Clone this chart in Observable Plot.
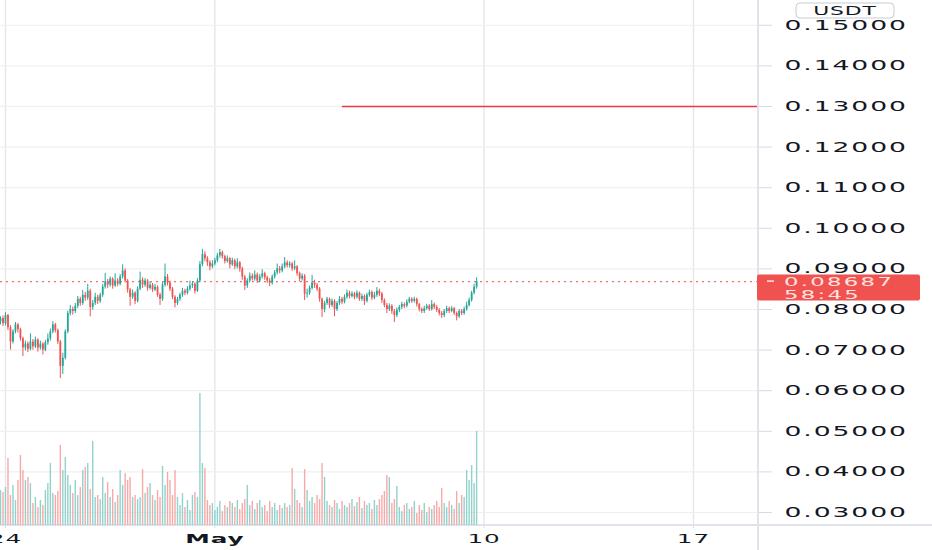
<!DOCTYPE html>
<html>
<head>
<meta charset="utf-8">
<script src="https://cdn.jsdelivr.net/npm/d3@7"></script>
<script src="https://cdn.jsdelivr.net/npm/@observablehq/plot@0.6"></script>
<style>
  body { margin: 0; background: #fff; }
  #chart { position: relative; width: 932px; height: 550px; overflow: hidden; background: #fff; }
  #chart svg { position: absolute; left: 0; top: 0; }
</style>
</head>
<body>
<div id="chart"></div>
<script>
// 2h candles, the first one opens Apr 23 20:00 UTC
const candleStart = Date.UTC(2024, 3, 23, 20);
const candleHours = 2;

const open = [
  .0770,.0778,.0765,.0785,.0755,.0720,.0745,.0762,.0750,.0728,.0705,.0715,
  .0702,.0720,.0708,.0725,.0705,.0715,.0700,.0718,.0728,.0745,.0762,.0748,
  .0720,.0660,.0680,.0745,.0790,.0800,.0795,.0808,.0825,.0815,.0835,.0828,
  .0845,.0805,.0815,.0830,.0820,.0835,.0855,.0868,.0860,.0875,.0858,.0870,
  .0862,.0880,.0895,.0870,.0848,.0830,.0840,.0820,.0850,.0872,.0860,.0870,
  .0852,.0860,.0848,.0855,.0835,.0825,.0860,.0880,.0865,.0850,.0830,.0815,
  .0825,.0835,.0845,.0840,.0850,.0858,.0862,.0845,.0870,.0910,.0935,.0925,
  .0915,.0905,.0912,.0920,.0932,.0940,.0930,.0918,.0925,.0910,.0920,.0905,
  .0915,.0900,.0880,.0858,.0870,.0882,.0875,.0885,.0870,.0880,.0888,.0878,
  .0870,.0865,.0880,.0890,.0900,.0895,.0905,.0915,.0908,.0912,.0900,.0905,
  .0888,.0875,.0882,.0838,.0840,.0852,.0865,.0860,.0850,.0825,.0800,.0815,
  .0825,.0810,.0820,.0800,.0815,.0825,.0818,.0830,.0840,.0832,.0838,.0830,
  .0840,.0825,.0832,.0820,.0835,.0842,.0828,.0835,.0845,.0838,.0822,.0810,
  .0800,.0808,.0795,.0785,.0798,.0805,.0812,.0808,.0818,.0825,.0820,.0825,
  .0812,.0800,.0795,.0802,.0808,.0800,.0812,.0805,.0798,.0790,.0785,.0795,
  .0802,.0795,.0802,.0790,.0782,.0795,.0790,.0800,.0810,.0822,.0840,.0855
];
const high = [
  .0782,.0784,.0792,.0788,.0760,.0750,.0768,.0766,.0754,.0732,.0722,.0720,
  .0740,.0726,.0732,.0728,.0722,.0718,.0724,.0740,.0752,.0770,.0766,.0752,
  .0724,.0692,.0750,.0796,.0810,.0806,.0815,.0832,.0830,.0847,.0842,.0862,
  .0850,.0822,.0840,.0835,.0840,.0862,.0889,.0874,.0880,.0878,.0888,.0876,
  .0886,.0910,.0900,.0874,.0852,.0848,.0844,.0856,.0892,.0878,.0876,.0874,
  .0868,.0864,.0862,.0858,.0840,.0866,.0912,.0886,.0870,.0854,.0834,.0830,
  .0840,.0852,.0850,.0856,.0870,.0868,.0866,.0876,.0918,.0948,.0942,.0930,
  .0920,.0920,.0926,.0938,.0948,.0944,.0934,.0932,.0928,.0926,.0924,.0925,
  .0918,.0904,.0884,.0876,.0890,.0888,.0895,.0890,.0886,.0898,.0892,.0882,
  .0876,.0885,.0896,.0912,.0906,.0912,.0928,.0920,.0918,.0916,.0920,.0908,
  .0892,.0888,.0886,.0850,.0858,.0884,.0872,.0864,.0854,.0828,.0820,.0830,
  .0828,.0826,.0824,.0820,.0832,.0830,.0836,.0848,.0845,.0844,.0842,.0846,
  .0843,.0838,.0836,.0840,.0848,.0846,.0842,.0854,.0850,.0842,.0826,.0815,
  .0814,.0812,.0800,.0804,.0810,.0818,.0816,.0824,.0830,.0829,.0830,.0828,
  .0815,.0804,.0808,.0813,.0812,.0822,.0816,.0810,.0802,.0795,.0800,.0808,
  .0806,.0807,.0805,.0794,.0800,.0800,.0806,.0818,.0828,.0845,.0862,.0878
];
const low = [
  .0762,.0758,.0760,.0748,.0700,.0715,.0740,.0742,.0722,.0684,.0698,.0694,
  .0698,.0700,.0704,.0695,.0700,.0688,.0696,.0712,.0722,.0740,.0742,.0714,
  .0630,.0640,.0676,.0740,.0784,.0786,.0790,.0802,.0808,.0810,.0820,.0822,
  .0782,.0798,.0810,.0812,.0815,.0830,.0850,.0852,.0855,.0850,.0854,.0856,
  .0858,.0875,.0865,.0840,.0808,.0825,.0812,.0816,.0846,.0852,.0855,.0845,
  .0848,.0842,.0844,.0830,.0810,.0820,.0855,.0858,.0844,.0824,.0804,.0810,
  .0820,.0830,.0834,.0836,.0845,.0852,.0838,.0842,.0866,.0905,.0918,.0906,
  .0895,.0900,.0908,.0915,.0926,.0924,.0912,.0914,.0900,.0906,.0898,.0900,
  .0892,.0872,.0847,.0852,.0865,.0870,.0870,.0864,.0866,.0875,.0872,.0864,
  .0856,.0860,.0875,.0885,.0888,.0890,.0900,.0902,.0902,.0894,.0896,.0882,
  .0868,.0870,.0822,.0828,.0835,.0848,.0852,.0844,.0818,.0780,.0792,.0810,
  .0802,.0805,.0782,.0795,.0810,.0812,.0814,.0825,.0826,.0828,.0824,.0826,
  .0820,.0820,.0810,.0816,.0830,.0822,.0824,.0830,.0832,.0815,.0804,.0790,
  .0795,.0788,.0768,.0780,.0792,.0800,.0802,.0804,.0814,.0815,.0816,.0806,
  .0794,.0790,.0790,.0798,.0795,.0796,.0800,.0793,.0784,.0778,.0780,.0790,
  .0790,.0792,.0785,.0772,.0778,.0785,.0786,.0796,.0806,.0818,.0836,.0850
];
const close = [
  .0778,.0765,.0785,.0755,.0720,.0745,.0762,.0750,.0728,.0705,.0715,.0702,
  .0720,.0708,.0725,.0705,.0715,.0700,.0718,.0728,.0745,.0762,.0748,.0720,
  .0660,.0680,.0745,.0790,.0800,.0795,.0808,.0825,.0815,.0835,.0828,.0845,
  .0805,.0815,.0830,.0820,.0835,.0855,.0868,.0860,.0875,.0858,.0870,.0862,
  .0880,.0895,.0870,.0848,.0830,.0840,.0820,.0850,.0872,.0860,.0870,.0852,
  .0860,.0848,.0855,.0835,.0825,.0860,.0880,.0865,.0850,.0830,.0815,.0825,
  .0835,.0845,.0840,.0850,.0858,.0862,.0845,.0870,.0910,.0935,.0925,.0915,
  .0905,.0912,.0920,.0932,.0940,.0930,.0918,.0925,.0910,.0920,.0905,.0915,
  .0900,.0880,.0858,.0870,.0882,.0875,.0885,.0870,.0880,.0888,.0878,.0870,
  .0865,.0880,.0890,.0900,.0895,.0905,.0915,.0908,.0912,.0900,.0905,.0888,
  .0875,.0882,.0838,.0840,.0852,.0865,.0860,.0850,.0825,.0800,.0815,.0825,
  .0810,.0820,.0800,.0815,.0825,.0818,.0830,.0840,.0832,.0838,.0830,.0840,
  .0825,.0832,.0820,.0835,.0842,.0828,.0835,.0845,.0838,.0822,.0810,.0800,
  .0808,.0795,.0785,.0798,.0805,.0812,.0808,.0818,.0825,.0820,.0825,.0812,
  .0800,.0795,.0802,.0808,.0800,.0812,.0805,.0798,.0790,.0785,.0795,.0802,
  .0795,.0802,.0790,.0782,.0795,.0790,.0800,.0810,.0822,.0840,.0855,.08687
];
const volume = [
  35,33,38,67,30,40,25,45,70,55,45,48,
  42,22,28,18,25,20,35,42,62,32,30,34,
  80,55,68,50,40,32,45,30,38,55,58,62,
  36,84,28,30,26,48,32,43,28,36,23,30,
  55,40,52,45,48,28,30,26,28,56,32,38,
  42,30,25,35,28,59,40,53,45,30,55,28,
  20,32,18,25,15,30,33,28,132,62,57,25,
  20,22,15,18,24,14,20,18,24,22,18,25,
  16,22,26,40,20,24,16,22,25,18,20,14,
  24,18,22,15,20,17,22,18,20,57,36,25,
  22,18,56,35,24,28,22,30,26,62,48,24,
  20,18,25,22,16,24,20,18,22,26,19,23,
  28,17,24,20,22,16,25,20,26,30,34,50,
  48,22,26,39,18,14,20,22,16,18,24,12,
  20,15,22,13,18,16,20,24,18,37,22,18,
  24,20,16,34,22,30,28,55,45,60,42,94
];

// price scale ticks and time axis labels
const priceTicks = [0.03, 0.04, 0.05, 0.06, 0.07, 0.08, 0.09, 0.10, 0.11, 0.12, 0.13, 0.14, 0.15];
const dateTicks = [new Date(Date.UTC(2024, 3, 24)), new Date(Date.UTC(2024, 4, 1)), new Date(Date.UTC(2024, 4, 10)), new Date(Date.UTC(2024, 4, 17))];
const dateLabels = ["24", "May", "10", "17"];

// annotations
const quote = "USDT";
const countdown = "58:45";
const target = 0.13;
const targetFrom = new Date(Date.UTC(2024, 4, 5, 6, 20));

// visible window
const viewFrom = new Date(Date.UTC(2024, 3, 23, 20));
const viewTo = new Date(Date.UTC(2024, 4, 19, 4, 10));
const priceView = [0.0268, 0.1561];
const volumeView = [0, 130];

const up = "#26a69a", down = "#ef5350";
const upVol = "#92d2cc", downVol = "#f7a9a7";
const font = "DejaVu Sans, sans-serif";
const stretchX = 1.9; // the price scale text is drawn wide

const candles = close.map((c, i) => ({
  date: new Date(candleStart + i * candleHours * 3600e3),
  open: open[i], high: high[i], low: low[i], close: c, volume: volume[i]
}));
const last = candles[candles.length - 1];
const isUp = d => d.close >= d.open;

const W = 932, H = 550;
const layout = { width: W, height: H, marginTop: 0, marginBottom: 25, marginLeft: 0, marginRight: 174 };

const container = document.getElementById("chart");

const main = Plot.plot({
  ...layout,
  x: { type: "utc", domain: [viewFrom, viewTo] },
  y: { domain: priceView },
  style: { background: "transparent", fontFamily: font, color: "#131722" },
  marks: [
    Plot.gridX(dateTicks, { stroke: "#e6e7ea", strokeOpacity: 1, strokeWidth: 1.5 }),
    Plot.gridY(priceTicks, { stroke: "#eeeff2", strokeOpacity: 1, strokeWidth: 1.2 }),
    Plot.ruleY([target], { x1: targetFrom, x2: viewTo, stroke: "#f23645", strokeWidth: 1.6 }),
    Plot.ruleY([last.close], { stroke: down, strokeOpacity: 0.85, strokeDasharray: "2,4", strokeWidth: 1.2 }),
    Plot.ruleX(candles, { x: "date", y1: "low", y2: "high", stroke: d => isUp(d) ? up : down, strokeWidth: 1 }),
    Plot.ruleX(candles, { x: "date", y1: "open", y2: "close", stroke: d => isUp(d) ? up : down, strokeWidth: 1.8 }),
    Plot.axisY(priceTicks, {
      anchor: "right", tickSize: 13, tickPadding: 13, tickFormat: d => d.toFixed(5),
      stroke: "#d9dadf", fill: "#131722", fontSize: 14
    }),
    Plot.axisX(dateTicks, {
      anchor: "bottom", tickSize: 3, tickPadding: 5,
      tickFormat: d => dateLabels[dateTicks.findIndex(t => +t === +d)],
      stroke: "#d9dadf", fill: "#131722", fontSize: 13
    })
  ]
});

const vol = Plot.plot({
  ...layout,
  x: { type: "utc", domain: [viewFrom, viewTo], axis: null },
  y: { domain: volumeView, range: [525, 395], axis: null },
  style: { background: "transparent" },
  marks: [
    Plot.ruleX(candles, { x: "date", y1: 0, y2: "volume", stroke: d => isUp(d) ? upVol : downVol, strokeWidth: 1.4 })
  ]
});
vol.style.pointerEvents = "none";

container.appendChild(main);
container.appendChild(vol);

// widen text around its own anchor point
function stretch(sel, s) {
  sel.each(function () {
    const t = d3.select(this);
    const xa = t.attr("x");
    const ok = xa != null && !isNaN(+xa);
    const x = ok ? +xa : 0;
    const tr = t.attr("transform") || "";
    if (ok) t.attr("x", null);
    t.attr("transform", `${tr} translate(${x},0) scale(${s},1)`);
  });
}

const svg = d3.select(main);
stretch(svg.selectAll('g[aria-label="y-axis tick label"] text').style("letter-spacing", "1px"), stretchX);
stretch(svg.selectAll('g[aria-label="x-axis tick label"] text').style("letter-spacing", "0.5px"), stretchX);
svg.selectAll('g[aria-label="x-axis tick label"] text')
  .filter(function () { return d3.select(this).text() === "May"; })
  .attr("font-weight", "bold");

const xs = main.scale("x"), ys = main.scale("y");
const axisLeft = xs.apply(viewTo);
const baseY = ys.apply(priceView[0]);

// price scale border and time scale border
svg.append("line").attr("x1", 0).attr("x2", W).attr("y1", baseY).attr("y2", baseY)
  .attr("stroke", "#e0e3eb").attr("stroke-width", 2);
svg.append("line").attr("x1", axisLeft).attr("x2", axisLeft).attr("y1", 0).attr("y2", H)
  .attr("stroke", "#e0e3eb").attr("stroke-width", 2);

// currency badge
const badge = svg.append("g").attr("transform", `translate(${axisLeft + 38},3)`);
badge.append("rect").attr("width", 98).attr("height", 15).attr("rx", 4)
  .attr("fill", "#fff").attr("stroke", "#c9cbd1");
const bt = badge.append("text").attr("x", 49).attr("y", 12).attr("text-anchor", "middle")
  .attr("font-family", font).attr("font-size", 11.5).attr("fill", "#131722")
  .style("letter-spacing", "0.5px").text(quote);
stretch(bt, stretchX);

// last price label
const lastY = ys.apply(last.close);
const tag = svg.append("g").attr("transform", `translate(${axisLeft - 1},${lastY})`);
tag.append("rect").attr("y", -6.5).attr("width", 163).attr("height", 26).attr("rx", 2).attr("fill", "#f0534f");
tag.append("line").attr("x1", 10).attr("x2", 17).attr("stroke", "#fde3e3").attr("stroke-width", 1.5);
const t1 = tag.append("text").attr("x", 27).attr("y", 5.4).attr("text-anchor", "start")
  .attr("font-family", font).attr("font-size", 12).attr("fill", "#fde3e3")
  .style("letter-spacing", "1.2px").text(last.close.toFixed(5));
const t2 = tag.append("text").attr("x", 27).attr("y", 17.6).attr("text-anchor", "start")
  .attr("font-family", font).attr("font-size", 12).attr("fill", "#fde3e3")
  .style("letter-spacing", "1.2px").text(countdown);
stretch(t1, stretchX);
stretch(t2, stretchX);
</script>
</body>
</html>
